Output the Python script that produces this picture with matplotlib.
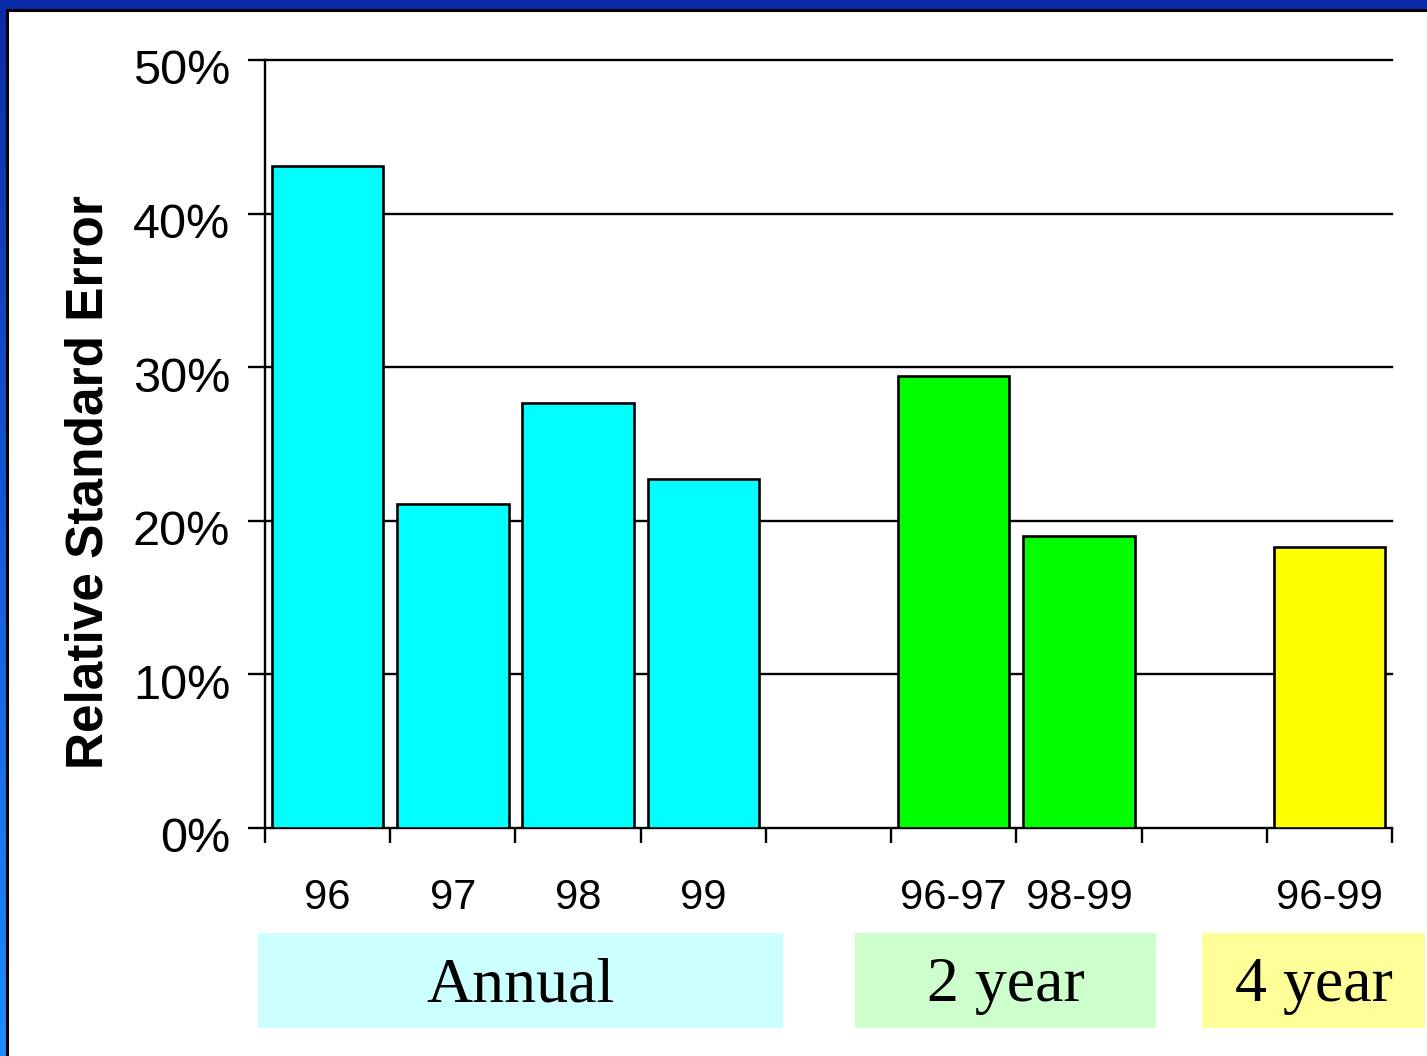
import matplotlib
matplotlib.use("Agg")
import matplotlib.pyplot as plt
import matplotlib.transforms as mtransforms
import numpy as np
from matplotlib.patches import Rectangle
from matplotlib.ticker import FixedLocator, PercentFormatter
from matplotlib.colors import LinearSegmentedColormap

categories = ["96", "97", "98", "99", "96-97", "98-99", "96-99"]
values = [43.1, 21.1, 27.7, 22.7, 29.4, 19.0, 18.3]
slots = [0, 1, 2, 3, 5, 6, 8]
bar_colors = ["#00FFFF", "#00FFFF", "#00FFFF", "#00FFFF", "#00FF00", "#00FF00", "#FFFF00"]
groups = ["Annual", "2 year", "4 year"]
group_colors = ["#CCFFFF", "#CCFFCC", "#FFFF99"]
yticks = [0, 10, 20, 30, 40, 50]

W, H = 1427, 1056
fig = plt.figure(figsize=(W / 100, H / 100), dpi=100)

# background gradient (blue frame)
bg = fig.add_axes([0, 0, 1, 1])
bg.set_axis_off()
grad = np.linspace(0, 1, 256).reshape(-1, 1)
cmap = LinearSegmentedColormap.from_list("b", ["#0B2AA8", "#1E8CFF"])
bg.imshow(grad, aspect="auto", cmap=cmap, extent=[0, 1, 0, 1], origin="upper")
bg.set_xlim(0, 1)
bg.set_ylim(0, 1)
bg.add_patch(Rectangle((7 / W, -0.01), 1.1, 1 - 10 / H + 0.01, transform=bg.transAxes,
                       facecolor="white", edgecolor="black", linewidth=2.2))

ax = fig.add_axes([265 / W, 228 / H, 1127 / W, 768 / H])
ax.set_facecolor("none")
ax.bar(slots, values, width=0.89, color=bar_colors, edgecolor="black", linewidth=1.9, zorder=3)
ax.set_xlim(-0.5, 8.5)
ax.set_ylim(0, 50)
for y in yticks[1:]:
    ax.axhline(y, color="black", linewidth=1.7, zorder=1, clip_on=False)
ax.set_yticks(yticks)
ax.yaxis.set_major_formatter(PercentFormatter(decimals=0))
ax.tick_params(axis="y", direction="out", length=12, width=1.7, labelsize=35, pad=13)
offset = mtransforms.ScaledTranslation(0, -7 / 100, fig.dpi_scale_trans)
for lab in ax.get_yticklabels():
    lab.set_fontfamily("Liberation Sans")
    lab.set_transform(lab.get_transform() + offset)

ax.set_xticks(slots)
ax.set_xticklabels(categories, fontsize=30, fontfamily="Liberation Sans")
ax.tick_params(axis="x", which="major", length=0, pad=36)
ax.xaxis.set_minor_locator(FixedLocator(np.arange(-0.5, 9, 1.0)))
ax.tick_params(axis="x", which="minor", direction="out", length=11, width=1.7)

for s in ["top", "right"]:
    ax.spines[s].set_visible(False)
ax.spines["left"].set_linewidth(1.7)
ax.spines["bottom"].set_linewidth(1.7)

ax.set_ylabel("Relative Standard Error", fontsize=37, fontweight="bold",
              fontfamily="Liberation Sans", labelpad=14)
ax.yaxis.label.set_y(0.45)

# group label boxes
boxes = [(258, 783), (855, 1156), (1202, 1425)]
for (x0, x1), name, col in zip(boxes, groups, group_colors):
    fig.patches.append(Rectangle((x0 / W, (H - 1028) / H), (x1 - x0) / W, 95 / H,
                                 transform=fig.transFigure, facecolor=col, edgecolor="none"))
    fig.text((x0 + x1) / 2 / W, (H - 986) / H, name, ha="center", va="center",
             fontsize=46, fontfamily="Liberation Serif")

fig.savefig("out.png", dpi=100)
